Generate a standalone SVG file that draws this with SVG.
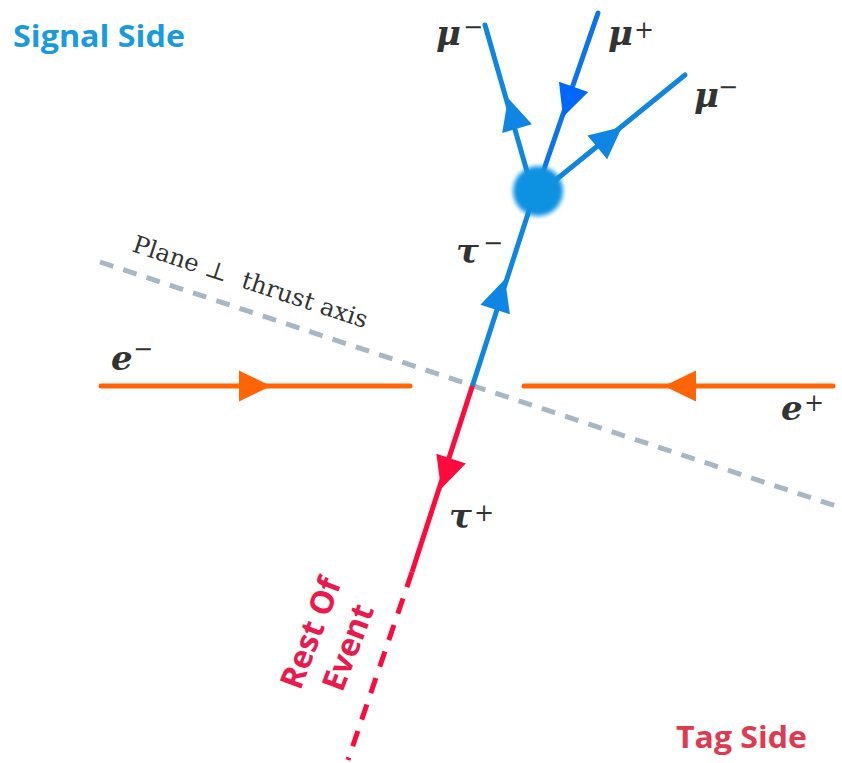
<svg xmlns="http://www.w3.org/2000/svg" xmlns:xlink="http://www.w3.org/1999/xlink" width="842" height="763" viewBox="0 0 842 763">
<style>
.lbl{font-family:"DejaVu Serif",serif;font-weight:bold;font-style:italic;font-size:34px;fill:#333333}
.sup{font-family:"DejaVu Serif",serif;font-weight:normal;font-style:normal;font-size:24px;fill:#333333}
.side{font-family:"Open Sans","Noto Sans",sans-serif;font-weight:bold;font-size:30px}
.blue{stroke:#0f86e4;stroke-width:5;stroke-linecap:round;fill:none}
.org{stroke:#ff6407;stroke-width:5;stroke-linecap:round;fill:none}
.red{stroke:#ff0a3c;stroke-width:5;fill:none}
</style>
<defs>
<path id="arr" d="M0,0 L-32,-15.5 L-32,15.5 Z"/>
<filter id="soft" x="-50%" y="-50%" width="200%" height="200%"><feGaussianBlur stdDeviation="2"/></filter>
</defs>
<rect width="842" height="763" fill="#ffffff"/>

<g id="plane">
<line x1="100" y1="262" x2="842" y2="508" stroke="#a8b7c5" stroke-width="5" stroke-dasharray="14 10.5"/>
<text x="131" y="251" transform="rotate(18.3 131 251)" textLength="246" lengthAdjust="spacingAndGlyphs" style="font-family:'DejaVu Serif',serif;font-size:24px;fill:#333333">Plane ⊥&#160; thrust axis</text>
</g>

<g id="connectors">
<line class="org" x1="101" y1="386" x2="410" y2="386"/>
<use xlink:href="#arr" transform="translate(271,386)" fill="#ff6407"/>
<line class="org" x1="524" y1="386" x2="833" y2="386"/>
<use xlink:href="#arr" transform="translate(664,386) rotate(180)" fill="#ff6407"/>
<line class="red" x1="473" y1="384" x2="412" y2="572"/>
<line class="red" x1="412" y1="572" x2="348" y2="760" stroke-dasharray="16 12"/>
<use xlink:href="#arr" transform="translate(441,489) rotate(108.4)" fill="#ff0a3c"/>
<line class="blue" x1="473" y1="384" x2="535" y2="192"/>
<use xlink:href="#arr" transform="translate(505,279) rotate(-72.1)" fill="#0f86e4"/>
<line class="blue" x1="528" y1="175" x2="485" y2="25"/>
<use xlink:href="#arr" transform="translate(508,98) rotate(-106.5)" fill="#0f86e4"/>
<line x1="543" y1="172" x2="598" y2="13" stroke="#0a74ee" stroke-width="5" stroke-linecap="round"/>
<use xlink:href="#arr" transform="translate(563,117) rotate(109.3)" fill="#0067fb"/>
<line class="blue" x1="552" y1="183" x2="685" y2="75"/>
<use xlink:href="#arr" transform="translate(622,127) rotate(-39.5)" fill="#0f86e4"/>
</g>

<g id="vertex">
<circle cx="538" cy="191" r="25" fill="#1092e2" filter="url(#soft)"/>
</g>

<g id="labels">
<text class="lbl" x="436" y="45">μ</text><text class="sup" x="463" y="35">−</text>
<text class="lbl" x="608" y="45">μ</text><text class="sup" x="634" y="38">+</text>
<text class="lbl" x="694" y="107">μ</text><text class="sup" x="718" y="95">−</text>
<text class="lbl" x="456" y="263">τ</text><text class="sup" x="483" y="251">−</text>
<text class="lbl" x="449" y="528">τ</text><text class="sup" x="474" y="521">+</text>
<text class="lbl" x="111" y="370">e</text><text class="sup" x="133" y="357">−</text>
<text class="lbl" x="781" y="420">e</text><text class="sup" x="804" y="411">+</text>
</g>

<g id="signal-side">
<text class="side" x="13" y="47" fill="#1a9ae0" textLength="172" lengthAdjust="spacingAndGlyphs">Signal Side</text>
</g>
<g id="tag-side">
<text class="side" x="676" y="748" fill="#e03a50" textLength="131" lengthAdjust="spacingAndGlyphs">Tag Side</text>
</g>
<g id="rest-of-event">
<text transform="translate(321,637) rotate(-69)" text-anchor="middle" style="font-family:'Open Sans','Noto Sans',sans-serif;font-weight:bold;font-size:32px;fill:#ea1a4c"><tspan x="0" y="0">Rest Of</tspan><tspan x="0" y="40">Event</tspan></text>
</g>
</svg>
